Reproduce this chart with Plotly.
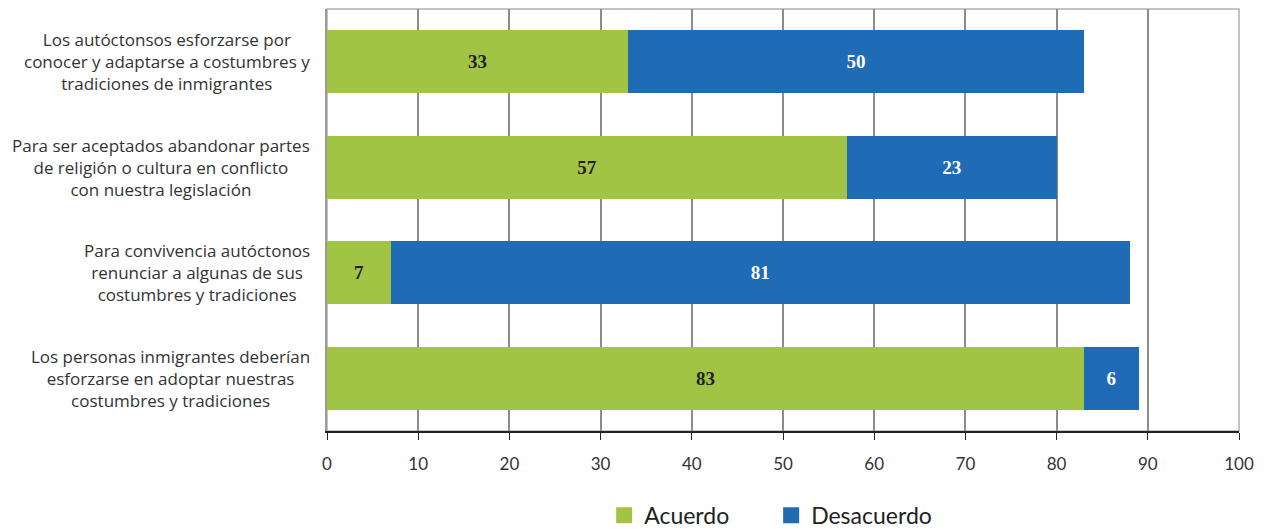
import plotly.graph_objects as go

categories = [
    "Los autóctonsos esforzarse por<br>conocer y adaptarse a costumbres y<br>tradiciones de inmigrantes",
    "Para ser aceptados abandonar partes<br>de religión o cultura en conflicto<br>con nuestra legislación",
    "Para convivencia autóctonos<br>renunciar a algunas de sus<br>costumbres y tradiciones",
    "Los personas inmigrantes deberían<br>esforzarse en adoptar nuestras<br>costumbres y tradiciones",
]
acuerdo = [33, 57, 7, 83]
desacuerdo = [50, 23, 81, 6]
tick_vals = [0, 10, 20, 30, 40, 50, 60, 70, 80, 90, 100]
series_names = ["Acuerdo", "Desacuerdo"]
series_colors = ["#A2C444", "#1F6BB5"]

fig = go.Figure()
fig.add_trace(go.Bar(
    y=categories, x=acuerdo, orientation="h", name=series_names[0],
    marker=dict(color=series_colors[0], line=dict(width=0)),
    text=acuerdo, texttemplate="<b>%{text}</b>", textposition="inside",
    insidetextanchor="middle",
    textfont=dict(family="Liberation Serif", size=19, color="#222222"),
    width=0.6, showlegend=False,
))
fig.add_trace(go.Bar(
    y=categories, x=desacuerdo, orientation="h", name=series_names[1],
    marker=dict(color=series_colors[1], line=dict(width=0)),
    text=desacuerdo, texttemplate="<b>%{text}</b>", textposition="inside",
    insidetextanchor="middle",
    textfont=dict(family="Liberation Serif", size=19, color="#FFFFFF"),
    width=0.6, showlegend=False,
))
# legend-only entries with large square symbols
for nm, col in zip(series_names, series_colors):
    fig.add_trace(go.Scatter(
        x=[None], y=[None], mode="markers", name=nm,
        marker=dict(symbol="square", size=17, color=col),
        showlegend=True,
    ))

fig.update_layout(
    barmode="stack",
    width=1257, height=521,
    margin=dict(l=319, r=26, t=1, b=98, autoexpand=False),
    plot_bgcolor="white", paper_bgcolor="white",
    font=dict(family="Open Sans", color="#333333"),
    showlegend=True,
    legend=dict(orientation="h", x=0.487, xanchor="center", y=-0.2, yanchor="middle",
                font=dict(size=23, family="Lato", color="#222222"),
                traceorder="normal", entrywidth=122, itemsizing="trace"),
)
fig.update_xaxes(
    range=[0, 100], tickvals=tick_vals, ticktext=[str(v) for v in tick_vals],
    showgrid=True, gridcolor="#8c8c8c", gridwidth=1.5,
    showline=True, linecolor="#222222", linewidth=1.5,
    ticks="outside", ticklen=7, tickcolor="#222222", tickwidth=1.2,
    ticklabelstandoff=10,
    tickfont=dict(size=17, family="Lato", color="#333333"),
    zeroline=False, automargin=False,
)
fig.update_yaxes(
    autorange="reversed", showgrid=False,
    showline=True, linecolor="#9a9a9a", linewidth=1.5,
    ticks="", showticklabels=False, automargin=False,
)
for cat in categories:
    fig.add_annotation(
        x=0, xref="paper", y=cat, yref="y", text=cat, showarrow=False,
        xanchor="right", xshift=-15, align="center", yanchor="middle",
        font=dict(family="Open Sans", size=17, color="#333333"),
    )
fig.add_shape(type="rect", xref="paper", yref="paper", x0=0, x1=1, y0=0, y1=1,
              line=dict(color="#b0b0b0", width=1.5), layer="below")

fig.write_html("out.html")
